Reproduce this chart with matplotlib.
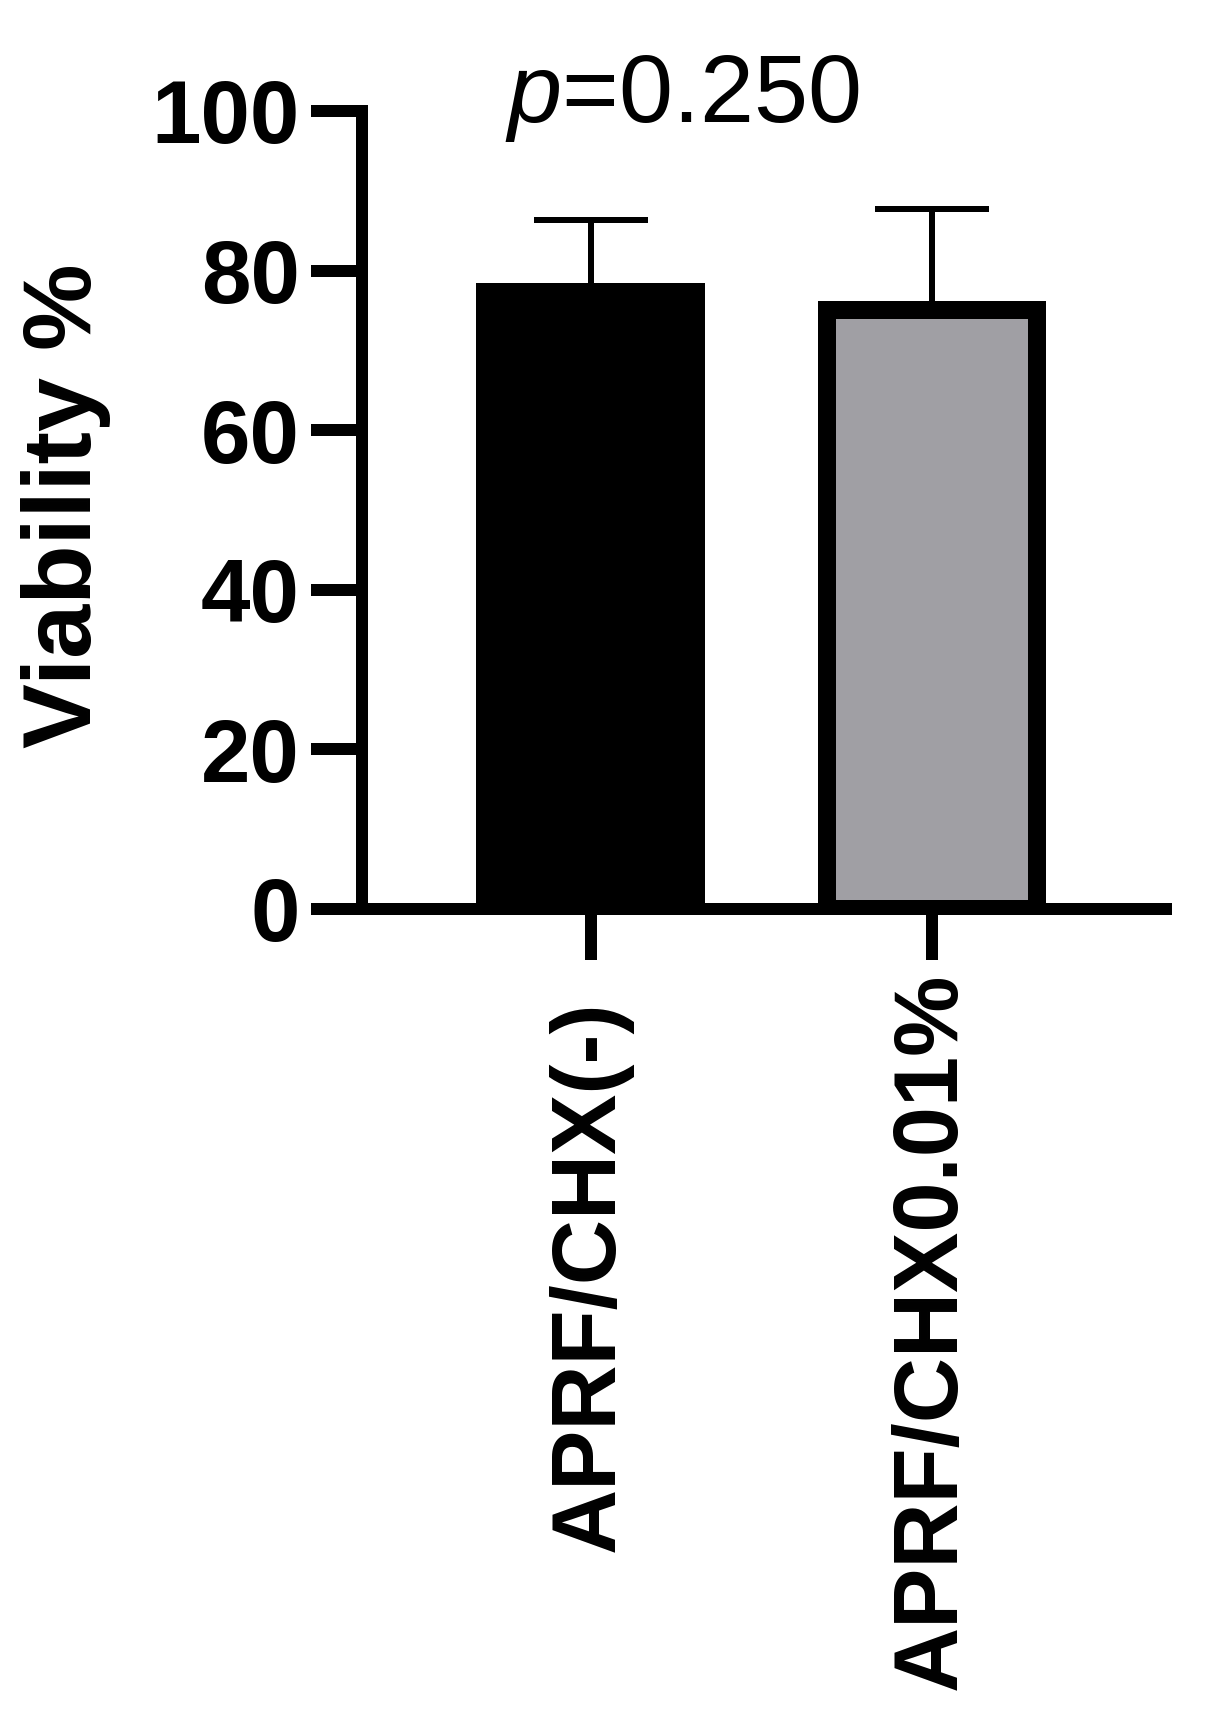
import matplotlib
matplotlib.use("Agg")
import matplotlib.pyplot as plt
import numpy as np

# ---- data ----
categories = ["APRF/CHX(-)", "APRF/CHX0.01%"]
means = [77.3, 75.1]
sd_upper = [9.0, 12.6]
bar_colors = ["#000000", "#a09fa4"]
y_ticks = [0, 20, 40, 60, 80, 100]
p_text = r"$p$=0.250"

plt.rcParams["mathtext.fontset"] = "custom"
plt.rcParams["mathtext.it"] = "Liberation Sans:italic"
plt.rcParams["mathtext.rm"] = "Liberation Sans"

W, H = 1209, 1734
fig = plt.figure(figsize=(W / 100, H / 100), dpi=100)
ax = fig.add_axes([362 / W, (H - 909) / H, (1165.7 - 362) / W, (909 - 111) / H])

x = np.arange(len(categories))
ax.bar(x, means, width=0.615, color=bar_colors, edgecolor="black",
       linewidth=12.96, zorder=2)
ax.errorbar(x, means, yerr=[np.zeros(len(means)), sd_upper], fmt="none",
            ecolor="black", elinewidth=4.32, capsize=41, capthick=4.32, zorder=1)

ax.set_xlim(-0.669, 1.684)
ax.set_ylim(0, 100)
ax.set_yticks(y_ticks)
ax.set_yticklabels([str(t) for t in y_ticks], fontsize=64, fontweight="bold",
                   family="Liberation Sans")
ax.set_xticks(x)
ax.set_xticklabels(["", ""])

for s in ["top", "right"]:
    ax.spines[s].set_visible(False)
for s in ["left", "bottom"]:
    ax.spines[s].set_linewidth(8.64)
ax.spines["left"].set_capstyle("projecting")
ax.tick_params(axis="both", width=8.64, length=36.7, direction="out", color="black")
ax.tick_params(axis="y", pad=8)

# x category labels (rotated)
label_tops = [-11.5, -8.0]
for xi, lab, yt in zip(x, categories, label_tops):
    ax.text(xi, yt, lab, rotation=90, ha="center", va="top", fontsize=65,
            fontweight="bold", family="Liberation Sans", clip_on=False)

# y label
fig.text(66 / W, 1 - 506 / H, "Viability %", rotation=90, ha="center", va="center",
         fontsize=70, fontweight="bold", family="Liberation Sans")

# p value
ax.text(0.268, 98.6, p_text, ha="center", va="baseline", fontsize=70,
        family="Liberation Sans", clip_on=False)

fig.savefig("out.png", dpi=100, facecolor="white")
